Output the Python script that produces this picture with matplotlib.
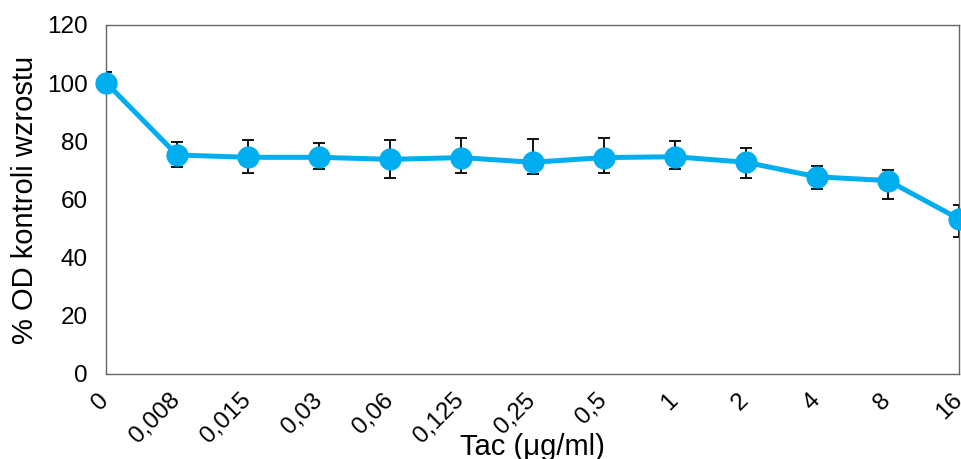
import numpy as np
import matplotlib
matplotlib.use('Agg')
import matplotlib.pyplot as plt
import matplotlib.transforms as mtransforms

plt.rcParams['font.family'] = ['Liberation Sans', 'DejaVu Sans']

# data
doses = ['0', '0,008', '0,015', '0,03', '0,06', '0,125', '0,25', '0,5',
         '1', '2', '4', '8', '16']
od_pct = [100.2, 75.3, 74.5, 74.5, 73.8, 74.4, 72.8, 74.4, 74.7, 72.8, 67.8, 66.5, 53.3]
err_hi = [104.0, 79.9, 80.4, 79.3, 80.5, 81.1, 80.7, 81.3, 80.2, 77.6, 71.5, 70.2, 58.1]
err_lo = [100.2, 71.1, 69.2, 70.4, 67.3, 69.0, 68.7, 69.2, 70.4, 67.5, 63.5, 60.2, 47.0]

line_col = '#00AEEF'

fig = plt.figure(figsize=(9.61, 4.59), dpi=100)
ax = fig.add_axes([0.1103, 0.1852, 0.8877, 0.7604])

x = np.arange(len(doses))
y = np.array(od_pct)
lo = y - np.array(err_lo)
hi = np.array(err_hi) - y

ax.errorbar(x, y, yerr=[lo, hi], fmt='none', ecolor='black', elinewidth=1.3,
            capsize=4.5, capthick=1.3, zorder=2)
ax.plot(x, y, '-o', color=line_col, lw=3.6, ms=15, zorder=3, clip_on=False)

ax.set_xlim(0, len(doses) - 1)
ax.set_ylim(0, 120)
ax.set_yticks(np.arange(0, 121, 20))
ax.set_xticks(x)
ax.set_xticklabels(doses, rotation=45, ha='right', va='top', rotation_mode='anchor')
ax.tick_params(axis='both', length=0, labelsize=17.5)
ax.tick_params(axis='x', pad=11)
ax.tick_params(axis='y', pad=13)

# shift the rotated labels a bit left, like the original
shift = mtransforms.ScaledTranslation(-6 / 72, 0, fig.dpi_scale_trans)
for lab in ax.get_xticklabels():
    lab.set_transform(lab.get_transform() + shift)

for s in ax.spines.values():
    s.set_color('#666666')
    s.set_linewidth(1.0)

ax.set_ylabel('% OD kontroli wzrostu', fontsize=21, va='center')
ax.yaxis.set_label_coords(-0.095, 0.5)
ax.set_xlabel('Tac (μg/ml)', fontsize=21, va='center')
ax.xaxis.set_label_coords(0.5, -0.209)

fig.savefig('out.png', dpi=100)
